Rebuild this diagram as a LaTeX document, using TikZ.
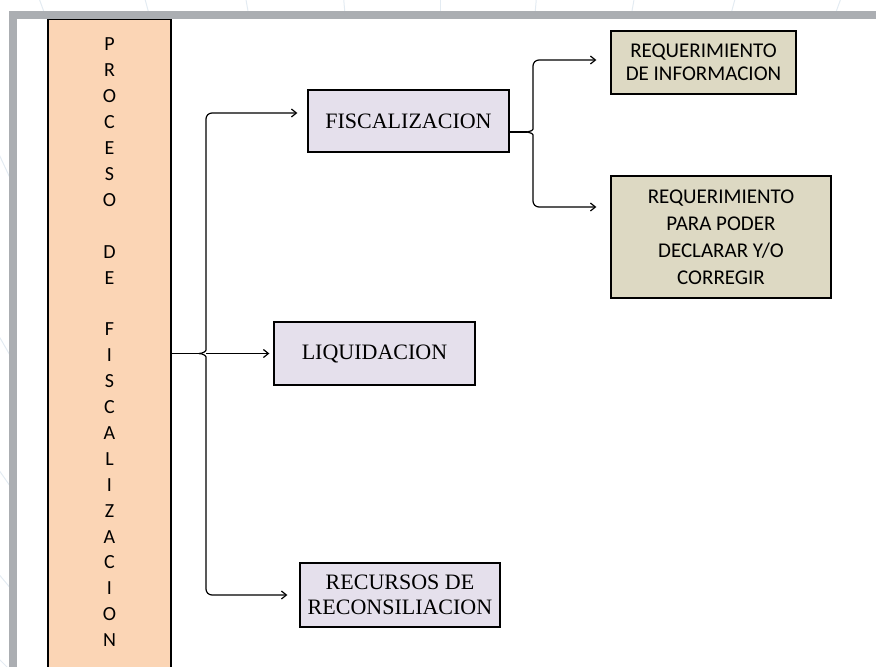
\documentclass[tikz,border=0pt]{standalone}
\usepackage{fontspec}
\setmainfont{Liberation Serif}
\newfontfamily\calfont{Carlito}
\usepackage{tikz}
\usetikzlibrary{calc,arrows.meta}
\definecolor{peach}{HTML}{FBD5B5}
\definecolor{lilac}{HTML}{E5E0EC}
\definecolor{khaki}{HTML}{DDD9C3}
\definecolor{framegray}{HTML}{ABAEB2}
\definecolor{bgline}{HTML}{E3EBF2}
\tikzset{
  box/.style={draw=black, line width=1.3pt, inner sep=0pt, align=center},
  procbox/.style={box, fill=peach, font=\calfont\fontsize{20}{25.9}\selectfont},
  mainbox/.style={box, fill=lilac, font=\fontsize{22}{25}\selectfont},
  reqbox/.style={box, fill=khaki, font=\calfont\fontsize{21}{23}\selectfont},
  conn/.style={draw=black, line width=1.2pt},
  arr/.style={conn, -{Straight Barb[length=5pt,width=8pt]}},
  faintline/.style={draw=bgline, line width=1pt},
}

\begin{document}
\begin{tikzpicture}[x=1pt,y=-1pt]
  \useasboundingbox (0,0) rectangle (876,667);

  \foreach \a in {-160,-155,...,-20}
    \draw[faintline] (440,1100) -- +(\a:1500);
  \fill[framegray] (9,11) rectangle (890,690);
  \fill[white] (17,19) rectangle (890,690);

  \node[procbox, anchor=north, minimum width=123pt, inner ysep=18.5pt, text depth=40pt] (proc) at (109.5,19)
    {P\\R\\O\\C\\E\\S\\O\\[25.9pt]D\\E\\[25.9pt]F\\I\\S\\C\\A\\L\\I\\Z\\A\\C\\I\\O\\N};

  \node[mainbox, minimum width=201pt, minimum height=62pt] (fisc) at (408.5,121) {FISCALIZACION};
  \node[mainbox, minimum width=201pt, minimum height=63pt] (liq) at (374.5,353.5) {LIQUIDACION};
  \node[mainbox, minimum width=200pt, minimum height=64pt] (rec) at (400,595) {RECURSOS DE\\RECONSILIACION};
  \node[reqbox, minimum width=185pt, minimum height=63pt] (info) at (703.5,62.5) {REQUERIMIENTO\\DE INFORMACION};
  \node[reqbox, minimum width=220pt, minimum height=122pt, font=\calfont\fontsize{21}{27}\selectfont] (decl) at (721,237)
    {REQUERIMIENTO\\PARA PODER\\DECLARAR Y/O\\CORREGIR};

  \coordinate (lfork) at (206,353.5);
  \coordinate (ltip) at (199,353.5);
  \coordinate (fiscin) at ($(fisc.west)+(-10,-8)$);
  \coordinate (liqin) at ($(liq.west)+(-4,0)$);
  \coordinate (recin) at ($(rec.west)+(-12,0)$);
  \coordinate (rfork) at (533,132);
  \coordinate (rtip) at (527,132);
  \coordinate (infoin) at ($(info.west)+(-14,-2.5)$);
  \coordinate (declin) at ($(decl.west)+(-14,-30)$);

  % brace from the process column
  \draw[conn] (proc.east |- lfork) -- (ltip);
  \draw[arr, rounded corners=6pt] (ltip) .. controls (203,353.5) and (206,351) .. (206,344) |- (fiscin);
  \draw[arr] (lfork) -- (liqin);
  \draw[arr, rounded corners=6pt] (ltip) .. controls (203,353.5) and (206,356) .. (206,363) |- (recin);

  \draw[conn] (fisc.east |- rtip) -- (rtip);
  \draw[arr, rounded corners=6pt] (rtip) .. controls (530,132) and (533,130) .. (533,123) |- (infoin);
  \draw[arr, rounded corners=6pt] (rtip) .. controls (530,132) and (533,134) .. (533,141) |- (declin);
\end{tikzpicture}
\end{document}
